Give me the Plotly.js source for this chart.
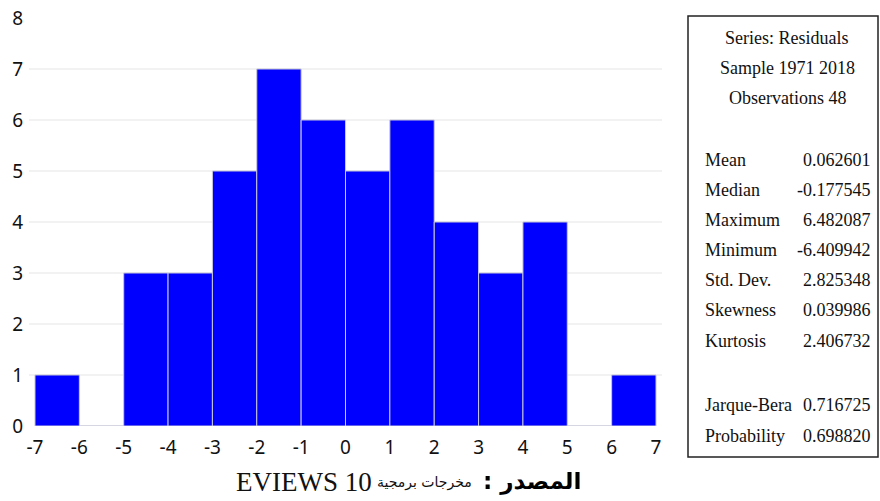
<!DOCTYPE html>
<html>
<head>
<meta charset="utf-8">
<script src="https://cdn.plot.ly/plotly-3.0.1.min.js"></script>
<style>html,body{margin:0;padding:0;background:#fff;}#chart{width:880px;height:501px;}</style>
</head>
<body>
<div id="chart"></div>
<script>
// Histogram of residuals (bin width 1)
var binCenters = [-6.5, -5.5, -4.5, -3.5, -2.5, -1.5, -0.5, 0.5, 1.5, 2.5, 3.5, 4.5, 5.5, 6.5];
var counts     = [1, 0, 3, 3, 5, 7, 6, 5, 6, 4, 3, 4, 0, 1];
var xTicks     = [-7, -6, -5, -4, -3, -2, -1, 0, 1, 2, 3, 4, 5, 6, 7];
var yTicks     = [0, 1, 2, 3, 4, 5, 6, 7, 8];
var gridVals   = [1, 2, 3, 4, 5, 6, 7];

var headerLines = ["Series: Residuals", "Sample 1971 2018", "Observations 48"];
var statNames  = ["Mean", "Median", "Maximum", "Minimum", "Std. Dev.", "Skewness", "Kurtosis", "Jarque-Bera", "Probability"];
var statValues = ["0.062601", "-0.177545", "6.482087", "-6.409942", "2.825348", "0.039986", "2.406732", "0.716725", "0.698820"];

var captionLatin = "EVIEWS 10";
var captionArabic = "مخرجات برمجية";
var captionBold = "\u200Fالمصدر :\u200F";

// layout geometry (pixels)
var W = 880, H = 501;
var L = 29, R = 662, T = 18, B = 426;
function px(x) { return (x - L) / (R - L); }
function py(y) { return (B - y) / (B - T); }

var headerY = [38, 68, 98];
var statY = [160, 190, 220, 250, 280, 310, 341, 405, 436];

var serif = "Liberation Serif, Times New Roman, serif";
var annotations = [];
headerLines.forEach(function (t, i) {
  annotations.push({xref: 'paper', yref: 'paper', x: px(787), y: py(headerY[i]), xanchor: 'center', yanchor: 'middle',
    text: t, showarrow: false, font: {family: serif, size: 18, color: '#111'}});
});
statNames.forEach(function (t, i) {
  annotations.push({xref: 'paper', yref: 'paper', x: px(703), y: py(statY[i]), xanchor: 'left', yanchor: 'middle',
    text: t, showarrow: false, font: {family: serif, size: 18, color: '#111'}});
  annotations.push({xref: 'paper', yref: 'paper', x: px(873), y: py(statY[i]), xanchor: 'right', yanchor: 'middle',
    text: statValues[i], showarrow: false, font: {family: serif, size: 18, color: '#111'}});
});
var capY = 482;
annotations.push({xref: 'paper', yref: 'paper', x: px(374), y: py(capY), xanchor: 'right', yanchor: 'middle',
  text: captionLatin, showarrow: false, font: {family: serif, size: 27, color: '#111'}});
annotations.push({xref: 'paper', yref: 'paper', x: px(474), y: py(capY), xanchor: 'right', yanchor: 'middle',
  text: captionArabic, showarrow: false, font: {family: "DejaVu Sans, sans-serif", size: 14, color: '#111'}});
annotations.push({xref: 'paper', yref: 'paper', x: px(583), y: py(capY - 1), xanchor: 'right', yanchor: 'middle',
  text: '<b>' + captionBold + '</b>', showarrow: false, font: {family: "DejaVu Sans, sans-serif", size: 23, color: '#000'}});

var shapes = gridVals.map(function (v) {
  return {type: 'line', xref: 'paper', yref: 'y', x0: 0, x1: 1, y0: v, y1: v, layer: 'below',
    line: {color: '#e6e6e6', width: 1.2}};
});
shapes.push({type: 'rect', xref: 'paper', yref: 'paper', x0: px(688), x1: px(878), y0: py(457), y1: py(16),
  line: {color: '#222', width: 1.5}, fillcolor: 'rgba(0,0,0,0)'});

var tickFont = {family: "Liberation Sans Narrow, Arial Narrow, Noto Sans, sans-serif", size: 19, color: '#111'};

var data = [{
  type: 'bar', x: binCenters, y: counts, width: 1,
  marker: {color: '#0000ff', line: {color: '#c8c8d8', width: 1}},
  hoverinfo: 'x+y'
}];

var layout = {
  width: W, height: H,
  margin: {l: L, r: W - R, t: T, b: H - B, pad: 0},
  paper_bgcolor: '#fff', plot_bgcolor: '#fff',
  showlegend: false,
  bargap: 0,
  xaxis: {range: [-7.135, 7.135], tickvals: xTicks, ticktext: xTicks.map(String), showgrid: false, zeroline: false,
    showline: false, ticks: '', tickfont: tickFont, ticklabelstandoff: 8, fixedrange: true},
  yaxis: {range: [0, 8], tickvals: yTicks, ticktext: yTicks.map(String), showgrid: false, zeroline: false,
    showline: false, ticks: '', tickfont: tickFont, ticklabelstandoff: 5, fixedrange: true},
  shapes: shapes,
  annotations: annotations
};

Plotly.newPlot('chart', data, layout, {displayModeBar: false, staticPlot: true});
</script>
</body>
</html>
